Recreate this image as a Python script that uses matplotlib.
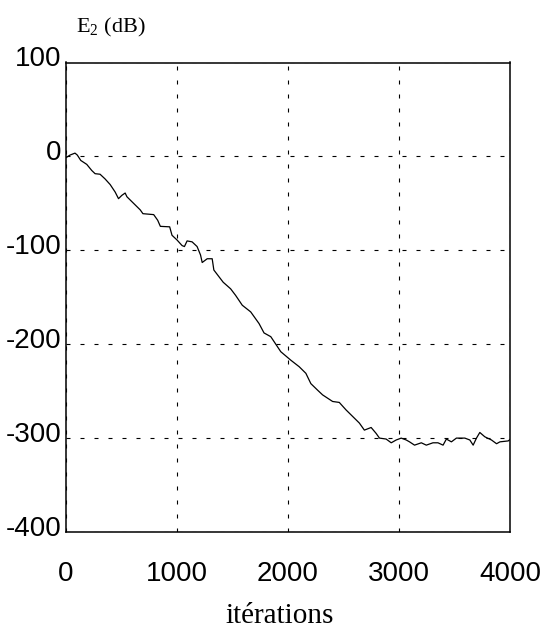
import matplotlib
matplotlib.use('Agg')
import matplotlib.pyplot as plt
import matplotlib.transforms as mtransforms

# error curve (iteration, dB)
iters = [0, 36, 81, 102, 133, 187, 232, 262, 307, 352, 398, 443, 473, 503, 533,
         549, 609, 669, 693, 790, 826, 850, 934, 955, 1000, 1046, 1067, 1091,
         1136, 1181, 1212, 1227, 1272, 1317, 1332, 1416, 1483, 1528, 1588, 1664,
         1739, 1784, 1845, 1890, 1935, 2025, 2101, 2161, 2206, 2267, 2312, 2402,
         2462, 2523, 2583, 2643, 2688, 2749, 2794, 2824, 2884, 2930, 2975, 3020,
         3065, 3095, 3140, 3201, 3246, 3306, 3351, 3397, 3427, 3472, 3517, 3593,
         3638, 3668, 3698, 3728, 3773, 3833, 3879, 3909, 3984, 4000]
err_db = [-1.4, 1.4, 3.5, 1.4, -4.3, -8.5, -15, -18.4, -19, -24, -30, -38, -45,
          -41.5, -39, -43, -50, -57, -61, -62, -68, -74.5, -75, -84, -89, -95,
          -96, -90, -91, -96, -105, -113, -109, -109, -121, -134, -141, -148,
          -158.5, -165.6, -178, -188, -192, -200, -208, -217, -224, -231, -242,
          -249, -254, -261, -262, -270, -277, -284, -291.5, -288.7, -295, -300,
          -301, -305, -302, -300, -302, -304, -307.5, -305, -307.5, -305, -305,
          -307.5, -301, -304, -300, -300, -302, -307.5, -300, -294, -298.6, -302,
          -306, -304, -303, -301.5]

xticks = [0, 1000, 2000, 3000, 4000]
yticks = [100, 0, -100, -200, -300, -400]

plt.rcParams['mathtext.fontset'] = 'custom'
plt.rcParams['mathtext.rm'] = 'Liberation Serif'
plt.rcParams['axes.unicode_minus'] = False

fig = plt.figure(figsize=(5.46, 6.28), dpi=100)
ax = fig.add_axes([66/546, 1 - 532/628, 444/546, 469.5/628])

ax.plot(iters, err_db, color='black', linewidth=0.9)
ax.set_xlim(0, 4000)
ax.set_ylim(-400, 100)
ax.set_xticks(xticks)
ax.set_yticks(yticks)
ax.grid(True, color='black', linewidth=0.8, linestyle=(0, (3.6, 9)))
ax.tick_params(length=0, labelsize=20)
ax.tick_params(axis='x', pad=21)
ax.tick_params(axis='y', pad=3)
for lab in ax.get_xticklabels() + ax.get_yticklabels():
    lab.set_family('Liberation Sans')
shift = mtransforms.ScaledTranslation(0, 6/100, fig.dpi_scale_trans)
for lab in ax.get_yticklabels():
    lab.set_transform(lab.get_transform() + shift)
for sp in ax.spines.values():
    sp.set_linewidth(1.1)

fig.text(76/546, 1 - 32/628, r'E$_{\mathrm{2}}$ (dB)', family='Liberation Serif',
         fontsize=16, va='baseline', ha='left')
fig.text(280/546, 1 - 623/628, 'itérations', family='Liberation Serif',
         fontsize=21, va='baseline', ha='center')

fig.savefig('out.png', dpi=100)
